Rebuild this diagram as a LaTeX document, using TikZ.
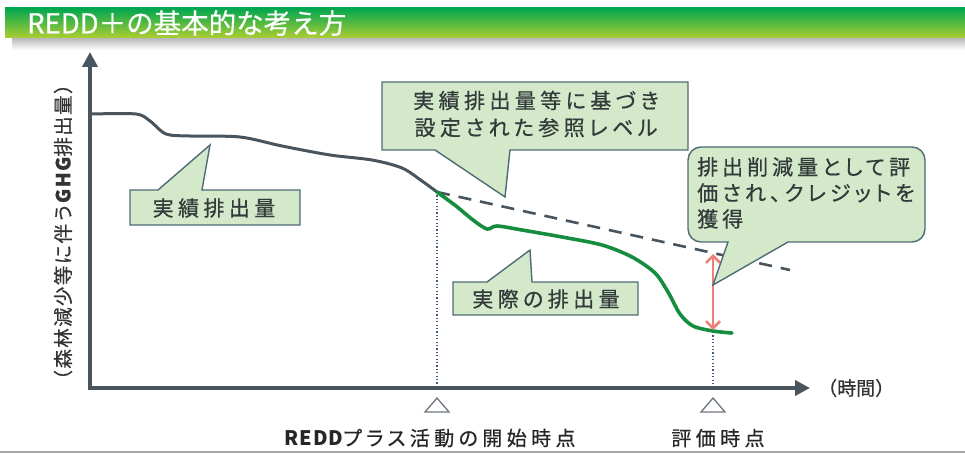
\documentclass[tikz,border=0pt]{standalone}
\usepackage{fontspec}
\setmainfont{Noto Sans CJK JP}
\newfontfamily\jp{Noto Sans CJK JP}
\newfontfamily\jpp[RawFeature=+palt,FakeBold=0.6]{Noto Sans CJK JP}
\usetikzlibrary{arrows.meta}
\definecolor{hdtop}{RGB}{0,166,80}
\definecolor{hdmid}{RGB}{40,172,70}
\definecolor{hdbot}{RGB}{172,206,50}
\definecolor{axcol}{RGB}{72,84,94}
\definecolor{grcol}{RGB}{22,140,62}
\definecolor{boxfill}{RGB}{212,232,202}
\definecolor{boxline}{RGB}{78,108,118}
\definecolor{txtcol}{RGB}{50,58,58}
\definecolor{pinkcol}{RGB}{240,128,118}
\definecolor{dotcol}{RGB}{60,90,130}
\tikzset{
  callout/.style={fill=boxfill,draw=boxline,line width=1.4pt},
  ctext/.style={text=txtcol,font=\jpp\fontsize{21}{27}\selectfont\addfontfeature{LetterSpace=21},inner sep=0pt},
  axis/.style={draw=axcol,line width=4pt},
  guide/.style={draw=dotcol,line width=1.1pt,dash pattern=on 1.2pt off 2.2pt},
  marker/.style={draw=axcol!80,line width=1.3pt,fill=white},
  bottomlbl/.style={text=black!85,font=\jpp\fontsize{20}{24}\selectfont\addfontfeature{LetterSpace=22},inner sep=0pt}
}
\begin{document}
\begin{tikzpicture}[x=1pt,y=-1pt]
\useasboundingbox (0,0) rectangle (965,454);
% header
\shade[top color=gray!60,bottom color=white] (12,37) rectangle (965,50);
\shade[top color=hdtop,middle color=hdmid,bottom color=hdbot] (5,8) rectangle (965,38);
\node[anchor=west,text=white,font=\jp\fontsize{27.5}{30}\selectfont\addfontfeature{FakeBold=0.5},inner sep=0pt] (title) at (27,23) {REDD＋の基本的な考え方};
% bottom rule
\draw[gray!70,line width=2pt] (0,452) -- (965,452);
% axes
\coordinate (ytop) at (90,52);
\coordinate (xend) at (810,388);
\draw[axis,-{Triangle[length=15pt,width=15pt]}] (90,390) -- (ytop);
\draw[axis,-{Triangle[length=15pt,width=15pt]}] (88,388) -- (xend);
\node[rotate=90,text=black!80,font=\jp\fontsize{19.5}{22}\selectfont\addfontfeature{FakeBold=0.6,LetterSpace=7},inner sep=0pt] (ylabel) at (63,232) {（森林減少等に伴う{\bfseries GHG}排出量）};
\node[anchor=west,text=black!80,font=\jp\fontsize{19}{22}\selectfont\addfontfeature{FakeBold=0.5},inner sep=0pt] (xlabel) at (818,388) {（時間）};
% key points
\coordinate (start) at (437,192);
\coordinate (evalpt) at (713,332);
\coordinate (startax) at (437,388);
\coordinate (evalax) at (713,388);
% guide lines
\draw[guide] (start) -- (startax);
\draw[guide] (evalpt) -- (evalax);
% reference level
\coordinate (refend) at (790,270);
\draw[draw=axcol,line width=2.6pt,dash pattern=on 13pt off 9pt] (start) -- (refend);
% actual historical curve
\draw[draw=axcol,line width=3pt,line cap=round] plot[smooth,tension=0.5] coordinates {(92,114) (136,114) (150,121) (166,134) (190,136) (240,137) (282,146) (330,155) (372,160) (402,168) (422,181) (437,192)};
% actual emission curve
\draw[draw=grcol,line width=3.6pt,line cap=round] plot[smooth,tension=0.5] coordinates {(437,192) (456,206) (473,220) (487,229) (497,226) (522,230) (562,237) (602,245) (632,257) (655,273) (668,292) (680,314) (693,326) (713,331) (732,333)};
% reduction arrow
\coordinate (arrtop) at (713,254);
\coordinate (arrbot) at (713,330);
\draw[draw=pinkcol,line width=2.6pt,{Straight Barb[length=7pt,width=14pt]}-{Straight Barb[length=7pt,width=14pt]}] (arrtop) -- (arrbot);
% markers
\draw[marker] (425,412) -- (437,398) -- (449,412) -- cycle;
\draw[marker] (701,412) -- (713,398) -- (725,412) -- cycle;
\node[bottomlbl] (lblstart) at (430,438) {{\jp\fontsize{20}{24}\selectfont\addfontfeature{LetterSpace=5}\bfseries REDD}プラス活動の開始時点};
\node[bottomlbl] (lbleval) at (718,438) {評価時点};
% callout 1
\draw[callout] (130,190) -- (158,190) -- (210,145) -- (202,190) -- (300,190) -- (300,225) -- (130,225) -- cycle;
\node[ctext] (c1) at (214,208) {実績排出量};
% callout 2
\draw[callout] (382,82) -- (688,82) -- (688,150) -- (510,150) -- (505,197) -- (435,150) -- (382,150) -- cycle;
\node[ctext,align=center] (c2) at (536,114) {実績排出量等に基づき\\設定された参照レベル};
% callout 3
\draw[callout] (688,200) [rounded corners=13pt] -- (688,147) -- (925,147) -- (925,242) [sharp corners] -- (788,242) -- (713,285) -- (728,242) [rounded corners=13pt] -- (688,242) -- cycle;
\node[ctext,align=left,anchor=north west,font=\jpp\fontsize{21}{26}\selectfont\addfontfeature{LetterSpace=19}] (c3) at (697,157) {排出削減量として評\\価され、クレジットを\\獲得};
% callout 4
\draw[callout] (453,282) -- (487,282) -- (530,250) -- (532,282) -- (638,282) -- (638,315) -- (453,315) -- cycle;
\node[ctext] (c4) at (546,299) {実際の排出量};
\end{tikzpicture}
\end{document}
